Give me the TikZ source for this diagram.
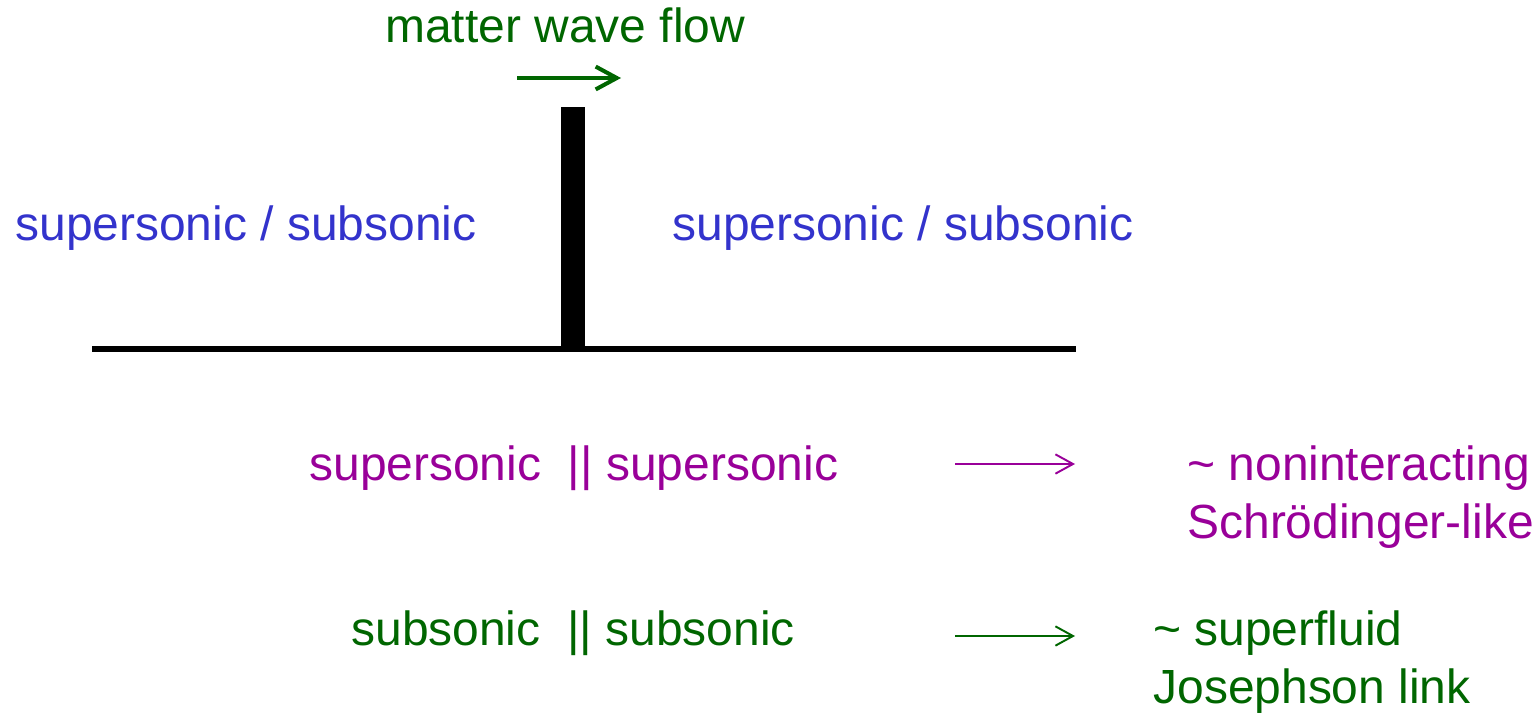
\documentclass[tikz,border=0pt]{standalone}
\usepackage{fontspec}
\setmainfont{Liberation Sans}
\usetikzlibrary{arrows.meta}

\definecolor{flowgreen}{RGB}{0,102,0}
\definecolor{sonicblue}{RGB}{51,51,204}
\definecolor{regpurple}{RGB}{153,0,153}

\tikzset{
  lbl/.style={inner sep=0pt, anchor=base west, font=\fontsize{27.3}{33}\selectfont},
  thinarrow/.style={line width=1.1pt, -{Straight Barb[length=10pt, width=11pt, line width=1.1pt]}}
}

\begin{document}
\begin{tikzpicture}[x=0.02cm, y=-0.02cm]
\useasboundingbox (0,0) rectangle (1537,716);
% barrier and ground line
\fill (561,107) rectangle (585,350);
\draw[line width=2.9pt] (92,349) -- (1076,349);
% flow direction
\node[lbl, text=flowgreen] (flow) at (385,43) {matter wave flow};
\coordinate (flowA) at (517,78);
\coordinate (flowB) at (621,78);
\draw[flowgreen, line width=2.3pt, -{Straight Barb[length=12pt, width=13pt, line width=2.3pt]}] (flowA) -- (flowB);
% the two sides
\node[lbl, text=sonicblue] (left) at (15,240) {supersonic / subsonic};
\node[lbl, text=sonicblue] (right) at (672,240) {supersonic / subsonic};
% regimes
\node[lbl, text=regpurple] (super) at (309,480) {supersonic\ \ || supersonic};
\coordinate (superA) at (955,464);
\coordinate (superB) at (1075,464);
\draw[regpurple, thinarrow] (superA) -- (superB);
\node[lbl, text=regpurple] (free1) at (1187,480) {\textasciitilde{} noninteracting};
\node[lbl, text=regpurple] (free2) at (1187,538) {Schrödinger-like};
\node[lbl, text=flowgreen] (sub) at (351,645) {subsonic\ \ || subsonic};
\coordinate (subA) at (955,636);
\coordinate (subB) at (1075,636);
\draw[flowgreen, thinarrow] (subA) -- (subB);
\node[lbl, text=flowgreen] (jos1) at (1153,645) {\textasciitilde{} superfluid};
\node[lbl, text=flowgreen] (jos2) at (1153,703) {Josephson link};
\end{tikzpicture}
\end{document}
